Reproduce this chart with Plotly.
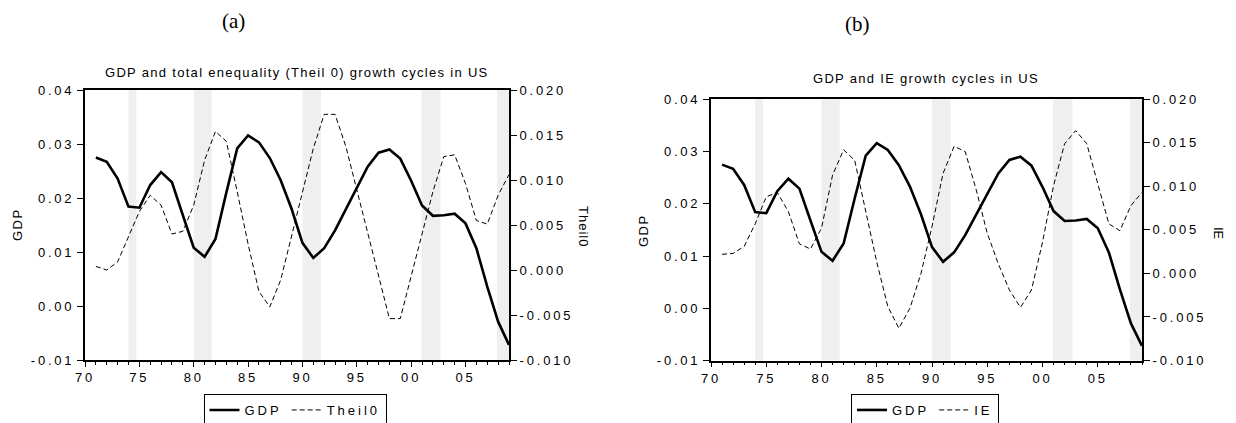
import plotly.graph_objects as go

# ---------------- data ----------------
years = list(range(1971, 2010))

gdp = [0.0275, 0.0267, 0.0236, 0.0184, 0.0182, 0.0224, 0.0248, 0.0229, 0.0168, 0.0108,
       0.0091, 0.0124, 0.0210, 0.0292, 0.0316, 0.0303, 0.0274, 0.0233, 0.0180, 0.0117,
       0.0089, 0.0107, 0.0140, 0.0180, 0.0221, 0.0258, 0.0284, 0.0290, 0.0273, 0.0232,
       0.0186, 0.0167, 0.0168, 0.0171, 0.0153, 0.0107, 0.0036, -0.0029, -0.0072]

theil0 = [0.0004, 0.0000, 0.0009, 0.0037, 0.0065, 0.0083, 0.0072, 0.0040, 0.0043, 0.0072,
          0.0122, 0.0154, 0.0143, 0.0087, 0.0029, -0.0024, -0.0041, -0.0011, 0.0038, 0.0088,
          0.0135, 0.0173, 0.0173, 0.0137, 0.0090, 0.0041, -0.0007, -0.0054, -0.0054, -0.0007,
          0.0040, 0.0087, 0.0126, 0.0128, 0.0096, 0.0055, 0.0051, 0.0083, 0.0106]

ie = [0.0022, 0.0023, 0.0031, 0.0057, 0.0088, 0.0093, 0.0071, 0.0034, 0.0028, 0.0052,
      0.0113, 0.0142, 0.0130, 0.0073, 0.0013, -0.0038, -0.0063, -0.0040, 0.0000, 0.0054,
      0.0115, 0.0146, 0.0140, 0.0096, 0.0046, 0.0011, -0.0019, -0.0039, -0.0019, 0.0036,
      0.0101, 0.0149, 0.0164, 0.0149, 0.0103, 0.0057, 0.0049, 0.0078, 0.0093]

recession_start = [1974.0, 1980.0, 1990.0, 2000.95, 2007.9]
recession_end = [1974.72, 1981.65, 1991.7, 2002.7, 2009.0]

x_tickvals = [1970, 1975, 1980, 1985, 1990, 1995, 2000, 2005]
x_ticktext = ["70", "75", "80", "85", "90", "95", "00", "05"]
gdp_tickvals = [-0.01, 0.0, 0.01, 0.02, 0.03, 0.04]
gdp_ticktext = ["-0.01", "0.00", "0.01", "0.02", "0.03", "0.04"]
ineq_tickvals = [-0.010, -0.005, 0.0, 0.005, 0.010, 0.015, 0.020]
ineq_ticktext = ["-0.010", "-0.005", "0.000", "0.005", "0.010", "0.015", "0.020"]

# ---------------- figure ----------------
# the page body has an 8px default margin, so the figure is 8px smaller
OFF = 8
W, H = 1236 - OFF, 423 - OFF
FONT = "Liberation Sans, Arial, sans-serif"
SERIF = "Liberation Serif, Times New Roman, serif"


def px(x):
    return (x - OFF) / W


def py(y):
    return 1 - (y - OFF) / H


def spaced(s, ls):
    return '<span style="letter-spacing:%spx">%s</span>' % (ls, s)


fig = go.Figure()

solid = dict(color="black", width=2.6)
dashed = dict(color="black", width=1, dash="5px,3px")

fig.add_trace(go.Scatter(x=years, y=gdp, name=spaced("GDP", 3), mode="lines", line=solid,
                         xaxis="x", yaxis="y", legend="legend"))
fig.add_trace(go.Scatter(x=years, y=theil0, name=spaced("Theil0", 3), mode="lines", line=dashed,
                         xaxis="x", yaxis="y2", legend="legend"))
fig.add_trace(go.Scatter(x=years, y=gdp, name=spaced("GDP", 3), mode="lines", line=solid,
                         xaxis="x2", yaxis="y3", legend="legend2"))
fig.add_trace(go.Scatter(x=years, y=ie, name=spaced("IE", 3), mode="lines", line=dashed,
                         xaxis="x2", yaxis="y4", legend="legend2"))

tickfont = dict(family=FONT, size=13, color="black")
TLS = 2.8


def xaxis(domain, anchor):
    return dict(domain=domain, anchor=anchor, range=[1970, 2009],
                tickmode="array", tickvals=x_tickvals,
                ticktext=[spaced(t, TLS) for t in x_ticktext],
                ticks="outside", ticklen=5, tickwidth=1, tickcolor="black",
                minor=dict(tickmode="array", tickvals=list(range(1970, 2010)),
                           ticks="outside", ticklen=3, tickwidth=1, tickcolor="black"),
                showline=True, linecolor="black", linewidth=1.5, mirror=True,
                showgrid=False, zeroline=False, tickfont=tickfont, fixedrange=True,
                automargin=False)


def yaxis(domain, anchor, rng, tv, tt, side="left", overlaying=None):
    d = dict(domain=domain, anchor=anchor, range=rng, side=side,
             tickmode="array", tickvals=tv, ticktext=[spaced(t, TLS) for t in tt],
             ticks="outside", ticklen=6, tickwidth=1, tickcolor="black",
             showline=True, linecolor="black", linewidth=2,
             showgrid=False, zeroline=False, tickfont=tickfont, fixedrange=True,
             automargin=False)
    if overlaying:
        d["overlaying"] = overlaying
    return d


xa = [px(85), px(509)]
ya = [py(360), py(90)]
xb = [px(711), px(1142)]
yb = [py(360.5), py(99.3)]

legend_common = dict(xanchor="center", yanchor="middle", orientation="h",
                     bordercolor="black", borderwidth=1, bgcolor="white",
                     font=dict(family=FONT, size=13, color="black"),
                     itemwidth=30, tracegroupgap=0)

fig.update_layout(
    template="none",
    width=W, height=H,
    margin=dict(l=0, r=0, t=0, b=0, autoexpand=False),
    paper_bgcolor="white", plot_bgcolor="white",
    showlegend=True,
    xaxis=xaxis(xa, "y"),
    yaxis=yaxis(ya, "x", [-0.01, 0.04], gdp_tickvals, gdp_ticktext),
    yaxis2=yaxis(ya, "x", [-0.010, 0.020], ineq_tickvals, ineq_ticktext,
                 side="right", overlaying="y"),
    xaxis2=xaxis(xb, "y3"),
    yaxis3=yaxis(yb, "x2", [-0.01, 0.04], gdp_tickvals, gdp_ticktext),
    yaxis4=yaxis(yb, "x2", [-0.010, 0.020], ineq_tickvals, ineq_ticktext,
                 side="right", overlaying="y3"),
    legend=dict(x=px(295), y=py(410), **legend_common),
    legend2=dict(x=px(925), y=py(410), **legend_common),
)

# recession shading
for xr, yr in (("x", "y domain"), ("x2", "y3 domain")):
    for s, e in zip(recession_start, recession_end):
        fig.add_shape(type="rect", xref=xr, yref=yr, x0=s, x1=e, y0=0, y1=1,
                      fillcolor="#efefef", line=dict(width=0), layer="below")

ann = []
ann.append(dict(text="(a)", x=px(233), y=py(21), font=dict(family=SERIF, size=21)))
ann.append(dict(text="(b)", x=px(857), y=py(24), font=dict(family=SERIF, size=21)))
ann.append(dict(text=spaced("GDP and total enequality (Theil 0) growth cycles in US", 1.3),
                x=px(297), y=py(73), font=dict(family=FONT, size=13)))
ann.append(dict(text=spaced("GDP and IE growth cycles in US", 1.3),
                x=px(926), y=py(79), font=dict(family=FONT, size=13)))
ann.append(dict(text=spaced("GDP", 1.5), x=px(17), y=py(225), textangle=-90, font=dict(family=FONT, size=13)))
ann.append(dict(text=spaced("Theil0", 1.0), x=px(584), y=py(226), textangle=90, font=dict(family=FONT, size=13)))
ann.append(dict(text=spaced("GDP", 1.5), x=px(643), y=py(231), textangle=-90, font=dict(family=FONT, size=13)))
ann.append(dict(text="IE", x=px(1219), y=py(233), textangle=90, font=dict(family=FONT, size=13)))
for a in ann:
    a.update(xref="paper", yref="paper", showarrow=False, xanchor="center", yanchor="middle")
    a["font"]["color"] = "black"
fig.update_layout(annotations=ann)

fig.write_html("out.html")
